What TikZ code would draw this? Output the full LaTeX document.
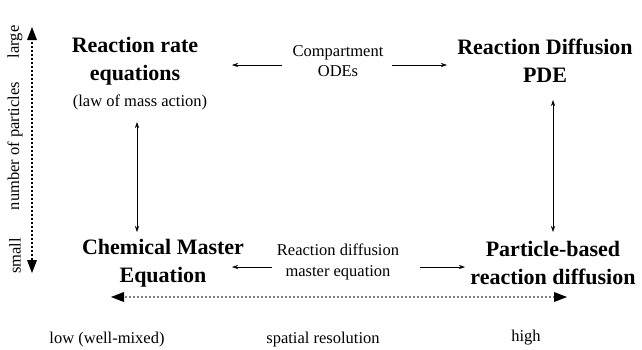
\documentclass[tikz,border=0pt]{standalone}
\usepackage{fontspec}
\setmainfont{Liberation Serif}
\usetikzlibrary{arrows.meta}
\begin{document}
\begin{tikzpicture}[x=1pt,y=-1pt,
  title/.style={font=\fontsize{22}{28}\selectfont\bfseries, align=center, inner sep=0pt},
  lbl/.style={font=\fontsize{16.5}{20.5}\selectfont, align=center, inner sep=0pt},
  conn/.style={{Stealth[length=6pt,width=4pt]}-{Stealth[length=6pt,width=4pt]}, line width=0.6pt},
  axis/.style={{Latex[length=11pt,width=9pt]}-{Latex[length=11pt,width=9pt]}, line width=2pt, dotted},
]
\useasboundingbox (0,0) rectangle (642,349);
% top left
\node[title] (rre) at (135,61) {Reaction rate\\equations};
\node[lbl] (lma) at (140,102) {(law of mass action)};
\node[lbl] (cmp) at (338,61) {Compartment\\ODEs};
\node[title] (rdp) at (545,61) {Reaction Diffusion\\PDE};
% bottom
\node[title] (cme) at (163,263) {Chemical Master\\Equation};
\node[lbl] (rdm) at (338,262) {Reaction diffusion\\master equation};
\node[title] (pbr) at (553,263) {Particle-based\\reaction diffusion};
% horizontal connectors
\coordinate (a1) at (232,65); \coordinate (a2) at (282,65);
\coordinate (a3) at (392,65); \coordinate (a4) at (447,65);
\draw[-{Stealth[length=6pt,width=4pt]}, line width=0.6pt] (a2) -- (a1);
\draw[-{Stealth[length=6pt,width=4pt]}, line width=0.6pt] (a3) -- (a4);
\coordinate (b1) at (232,267); \coordinate (b2) at (272,267);
\coordinate (b3) at (420,267); \coordinate (b4) at (465,267);
\draw[-{Stealth[length=6pt,width=4pt]}, line width=0.6pt] (b2) -- (b1);
\draw[-{Stealth[length=6pt,width=4pt]}, line width=0.6pt] (b3) -- (b4);
% vertical connectors
\draw[conn] (137,122) -- (137,232);
\draw[conn] (553,100) -- (553,232);
% axes
\coordinate (xl) at (111,297); \coordinate (xr) at (567,297);
\draw[axis, draw=gray] (xl) -- (xr);
\fill (xl) -- ++(13,-5) -- ++(0,10) -- cycle;
\fill (xr) -- ++(-13,-5) -- ++(0,10) -- cycle;
\node[lbl] (low) at (107,340) {low (well-mixed)};
\node[lbl] (sr) at (323,340) {spatial resolution};
\node[lbl] (hi) at (526,338) {high};
\coordinate (yt) at (32,27); \coordinate (yb) at (32,273);
\draw[line width=2pt, dotted] (32,38) -- (32,262);
\fill (yt) -- ++(-5,13) -- ++(10,0) -- cycle;
\fill (yb) -- ++(-5,-13) -- ++(10,0) -- cycle;
\node[lbl, rotate=90] (lg) at (15,42) {large};
\node[lbl, rotate=90] (np) at (15,146) {number of particles};
\node[lbl, rotate=90] (sm) at (15,256) {small};
\end{tikzpicture}
\end{document}
